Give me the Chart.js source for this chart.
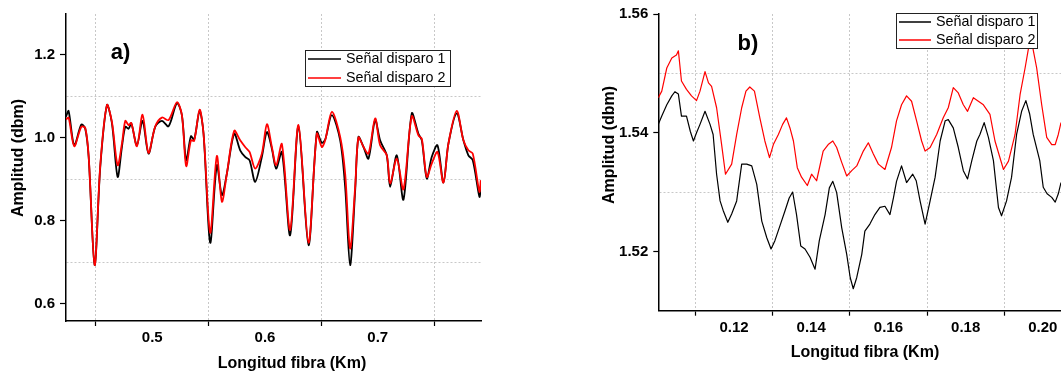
<!DOCTYPE html>
<html>
<head>
<meta charset="utf-8">
<script src="https://cdn.jsdelivr.net/npm/chart.js@4.4.0/dist/chart.umd.min.js"></script>
<style>
  html, body { margin: 0; padding: 0; background: #fff; }
  #wrap { position: relative; width: 1061px; height: 376px; overflow: hidden; }
  .panel { position: absolute; top: 0; height: 376px; }
  #panelA { left: 0; width: 530px; }
  #panelB { left: 560px; width: 501px; }
</style>
</head>
<body>
<div id="wrap">
  <div class="panel" id="panelA"><canvas id="chartA"></canvas></div>
  <div class="panel" id="panelB"><canvas id="chartB"></canvas></div>
</div>
<script>
// ---- panel a) ----
const kmA = [0.4235,0.4258,0.4308,0.4371,0.4406,0.4436,0.4489,0.4539,0.4598,0.4642,0.4693,0.4731,0.4761,0.4790,0.4814,0.4864,0.4914,0.4967,0.5027,0.5086,0.5145,0.5219,0.5263,0.5301,0.5343,0.5372,0.5420,0.5455,0.5514,0.5573,0.5618,0.5662,0.5727,0.5780,0.5824,0.5863,0.5913,0.5972,0.6017,0.6061,0.6099,0.6150,0.6223,0.6297,0.6386,0.6460,0.6504,0.6534,0.6593,0.6667,0.6711,0.6755,0.6800,0.6829,0.6874,0.6918,0.6977,0.7021,0.7080,0.7110,0.7169,0.7228,0.7302,0.7361,0.7391,0.7435,0.7479,0.7530,0.7583,0.7627,0.7701,0.7760,0.7804,0.7843,0.7902,0.7914];
const disparo1A = [1.051,1.065,0.982,1.032,1.022,0.954,0.693,0.930,1.079,1.036,0.906,0.978,1.027,1.022,1.035,0.982,1.041,0.962,1.027,1.041,1.028,1.084,1.055,0.946,1.004,0.996,1.065,1.010,0.747,0.934,0.862,0.914,1.010,0.970,0.954,0.946,0.894,0.954,1.014,0.974,0.926,0.966,0.765,1.028,0.741,1.014,0.988,0.996,1.055,0.994,0.882,0.693,0.874,1.002,0.978,0.950,1.043,0.994,0.958,0.882,0.958,0.851,1.059,1.010,0.994,0.902,0.954,0.982,0.892,0.986,1.059,0.994,0.958,0.946,0.858,0.878];
const disparo2A = [1.044,1.049,0.980,1.027,1.024,0.956,0.693,0.934,1.079,1.039,0.934,0.986,1.041,1.031,1.036,0.980,1.056,0.964,1.028,1.049,1.043,1.086,1.055,0.932,0.994,0.993,1.068,1.010,0.771,0.956,0.846,0.914,1.017,0.994,0.978,0.966,0.926,0.962,1.033,0.978,0.934,0.985,0.778,1.031,0.747,1.010,0.978,0.994,1.063,1.002,0.914,0.733,0.882,1.001,0.978,0.962,1.047,0.982,0.958,0.890,0.950,0.876,1.052,1.006,0.998,0.906,0.938,0.966,0.892,0.986,1.065,0.994,0.970,0.962,0.870,0.898];

// ---- panel b) ----
const kmB1 = [0.1004,0.1013,0.1026,0.1039,0.1047,0.1056,0.1064,0.1077,0.1087,0.1095,0.1103,0.1112,0.1125,0.1138,0.1146,0.1155,0.1164,0.1172,0.1184,0.1194,0.1207,0.1220,0.1233,0.1246,0.1259,0.1272,0.1285,0.1296,0.1306,0.1319,0.1332,0.1343,0.1352,0.1362,0.1373,0.1384,0.1397,0.1410,0.1421,0.1436,0.1447,0.1456,0.1466,0.1479,0.1492,0.1501,0.1509,0.1518,0.1531,0.1539,0.1552,0.1565,0.1578,0.1591,0.1604,0.1613,0.1621,0.1634,0.1647,0.1663,0.1672,0.1682,0.1695,0.1708,0.1721,0.1734,0.1747,0.1755,0.1768,0.1781,0.1794,0.1805,0.1816,0.1829,0.1837,0.1848,0.1859,0.1872,0.1885,0.1893,0.1906,0.1919,0.1932,0.1945,0.1956,0.1966,0.1975,0.1992,0.2001,0.2011,0.2023,0.2032,0.2040,0.2047];
const disparo1B = [1.5414,1.5428,1.5447,1.5462,1.5469,1.5465,1.5428,1.5428,1.5402,1.5386,1.5400,1.5414,1.5436,1.5414,1.5397,1.5330,1.5285,1.5269,1.5249,1.5263,1.5285,1.5347,1.5347,1.5344,1.5313,1.5251,1.5223,1.5204,1.5218,1.5243,1.5268,1.5290,1.5300,1.5262,1.5209,1.5204,1.5190,1.5170,1.5218,1.5262,1.5307,1.5318,1.5299,1.5240,1.5195,1.5156,1.5137,1.5156,1.5195,1.5234,1.5246,1.5262,1.5274,1.5276,1.5262,1.5290,1.5318,1.5344,1.5316,1.5330,1.5319,1.5285,1.5246,1.5285,1.5325,1.5386,1.5420,1.5422,1.5408,1.5375,1.5336,1.5322,1.5353,1.5386,1.5397,1.5417,1.5392,1.5353,1.5274,1.5260,1.5285,1.5325,1.5397,1.5436,1.5454,1.5431,1.5397,1.5353,1.5308,1.5297,1.5291,1.5283,1.5297,1.5316];
const kmB2 = [0.1004,0.1013,0.1026,0.1039,0.1051,0.1056,0.1064,0.1077,0.1090,0.1103,0.1112,0.1125,0.1134,0.1142,0.1155,0.1168,0.1178,0.1194,0.1207,0.1220,0.1231,0.1241,0.1253,0.1267,0.1280,0.1292,0.1302,0.1315,0.1326,0.1336,0.1345,0.1354,0.1364,0.1375,0.1390,0.1401,0.1414,0.1431,0.1444,0.1456,0.1466,0.1479,0.1492,0.1505,0.1518,0.1535,0.1548,0.1561,0.1574,0.1591,0.1608,0.1621,0.1634,0.1647,0.1660,0.1673,0.1686,0.1695,0.1708,0.1725,0.1742,0.1755,0.1768,0.1781,0.1794,0.1805,0.1820,0.1833,0.1846,0.1863,0.1876,0.1898,0.1911,0.1928,0.1941,0.1954,0.1963,0.1974,0.1984,0.1997,0.2010,0.2023,0.2032,0.2040,0.2047];
const disparo2B = [1.5459,1.5470,1.5509,1.5526,1.5531,1.5538,1.5487,1.5473,1.5462,1.5454,1.5470,1.5503,1.5484,1.5478,1.5442,1.5380,1.5330,1.5347,1.5397,1.5442,1.5470,1.5477,1.5470,1.5425,1.5386,1.5358,1.5380,1.5397,1.5414,1.5425,1.5408,1.5386,1.5341,1.5325,1.5311,1.5330,1.5319,1.5369,1.5380,1.5386,1.5375,1.5350,1.5327,1.5336,1.5344,1.5369,1.5383,1.5364,1.5347,1.5338,1.5375,1.5420,1.5447,1.5462,1.5453,1.5420,1.5386,1.5369,1.5375,1.5397,1.5425,1.5442,1.5476,1.5467,1.5447,1.5436,1.5459,1.5453,1.5447,1.5431,1.5386,1.5338,1.5352,1.5397,1.5464,1.5509,1.5543,1.5543,1.5509,1.5447,1.5392,1.5380,1.5380,1.5397,1.5417];

const seriesNames = ['Señal disparo 1', 'Señal disparo 2'];
const xTitle = 'Longitud fibra (Km)';
const yTitle = 'Amplitud (dbm)';

const FONT = '"Liberation Sans", Arial, sans-serif';
const GRID = '#c8c8c8';
const NONE = 'rgba(0,0,0,0)';

const pts = (xs, ys) => xs.map((x, i) => ({ x: x, y: ys[i] }));

// titles, panel tag and framed legend
const annotate = {
    id: 'annotate',
    afterDraw(chart, args, o) {
        const ctx = chart.ctx;
        ctx.save();
        ctx.fillStyle = '#000';
        ctx.textBaseline = 'middle';
        ctx.textAlign = 'center';
        ctx.font = 'bold 16px ' + FONT;
        ctx.fillText(xTitle, o.xTitle[0], o.xTitle[1]);
        ctx.save();
        ctx.translate(o.yTitle[0], o.yTitle[1]);
        ctx.rotate(-Math.PI / 2);
        ctx.fillText(yTitle, 0, 0);
        ctx.restore();
        ctx.font = 'bold 22px ' + FONT;
        ctx.fillText(o.tag, o.tagPos[0], o.tagPos[1]);

        const b = o.box;
        ctx.fillStyle = '#fff';
        ctx.fillRect(b[0], b[1], b[2], b[3]);
        ctx.strokeStyle = '#222';
        ctx.lineWidth = 1;
        ctx.strokeRect(b[0] + 0.5, b[1] + 0.5, b[2], b[3]);
        ctx.font = '14.3px ' + FONT;
        ctx.textAlign = 'left';
        seriesNames.forEach((name, i) => {
            const y = o.rows[i];
            ctx.strokeStyle = chart.data.datasets[i].borderColor;
            ctx.lineWidth = 1.5;
            ctx.beginPath();
            ctx.moveTo(o.sample[0], y);
            ctx.lineTo(o.sample[1], y);
            ctx.stroke();
            ctx.fillStyle = '#000';
            ctx.fillText(name, o.textX, y + 0.5);
        });
        ctx.restore();
    }
};

function axis(min, max, step, labeled, fmt, isY, tickLen, pad) {
    return {
        type: 'linear',
        min: min,
        max: max,
        border: { display: true, color: '#000', width: 1.5, dash: [2, 2] },
        grid: {
            color: c => (c.tick && !labeled(c.tick.value)) ? GRID : NONE,
            tickColor: c => (c.tick && labeled(c.tick.value) === isY) ? '#000' : NONE,
            tickLength: tickLen,
            tickWidth: 1.2,
            lineWidth: 1
        },
        ticks: {
            stepSize: step,
            includeBounds: false,
            autoSkip: false,
            maxRotation: 0,
            padding: pad,
            color: '#000',
            font: { family: FONT, size: 15, weight: 'bold' },
            callback: v => labeled(v) ? fmt(v) : ''
        }
    };
}

function makeChart(id, sets, width, smooth, scales, pad, yWidth, xHeight, notes) {
    scales.y.afterFit = s => { s.width = yWidth; };
    scales.x.afterFit = s => { s.height = xHeight; };
    return new Chart(document.getElementById(id), {
        type: 'line',
        data: {
            datasets: [{
                label: seriesNames[0],
                data: sets[0],
                borderColor: '#000000',
                borderWidth: width,
                order: 1
            }, {
                label: seriesNames[1],
                data: sets[1],
                borderColor: '#ff0000',
                borderWidth: width,
                order: 0
            }]
        },
        options: {
            responsive: true,
            maintainAspectRatio: false,
            animation: false,
            events: [],
            layout: { padding: pad },
            elements: {
                point: { radius: 0 },
                line: { borderJoinStyle: 'round', tension: smooth, capBezierPoints: true }
            },
            scales: scales,
            plugins: {
                legend: { display: false },
                tooltip: { enabled: false },
                annotate: notes
            }
        },
        plugins: [annotate]
    });
}

const evenTenth = v => Math.round(v * 10) % 2 === 0;
const wholeTenth = v => Math.round(v * 20) % 2 === 0;
const evenHundredth = v => Math.round(v * 100) % 2 === 0;

const chartA = makeChart('chartA',
    [pts(kmA, disparo1A), pts(kmA, disparo2A)], 1.8, 0.3,
    {
        x: axis(0.4235, 0.7916, 0.05, wholeTenth, v => v.toFixed(1), false, 5, 3),
        y: axis(0.5583, 1.2988, 0.1, evenTenth, v => v.toFixed(1), true, 6, 5)
    },
    { top: 14, right: 49, bottom: 0, left: 0 }, 66, 55,
    {
        xTitle: [292, 364], yTitle: [18.5, 158], tag: 'a)', tagPos: [120.5, 52.5],
        box: [305, 50, 145, 36], rows: [59, 78], sample: [308, 341], textX: 346
    });

const chartB = makeChart('chartB',
    [pts(kmB1, disparo1B), pts(kmB2, disparo2B)], 1.2, 0,
    {
        x: axis(0.1004, 0.2047, 0.01, evenHundredth, v => v.toFixed(2), false, 5, 3.5),
        y: axis(1.51, 1.56, 0.01, evenHundredth, v => v.toFixed(2), true, 5, 5)
    },
    { top: 12.7, right: 0, bottom: 0, left: 0 }, 98.3, 65.3,
    {
        xTitle: [305, 353], yTitle: [50, 145], tag: 'b)', tagPos: [188, 44],
        box: [336, 13, 141, 35], rows: [22, 40], sample: [339, 371], textX: 376
    });
</script>
</body>
</html>
